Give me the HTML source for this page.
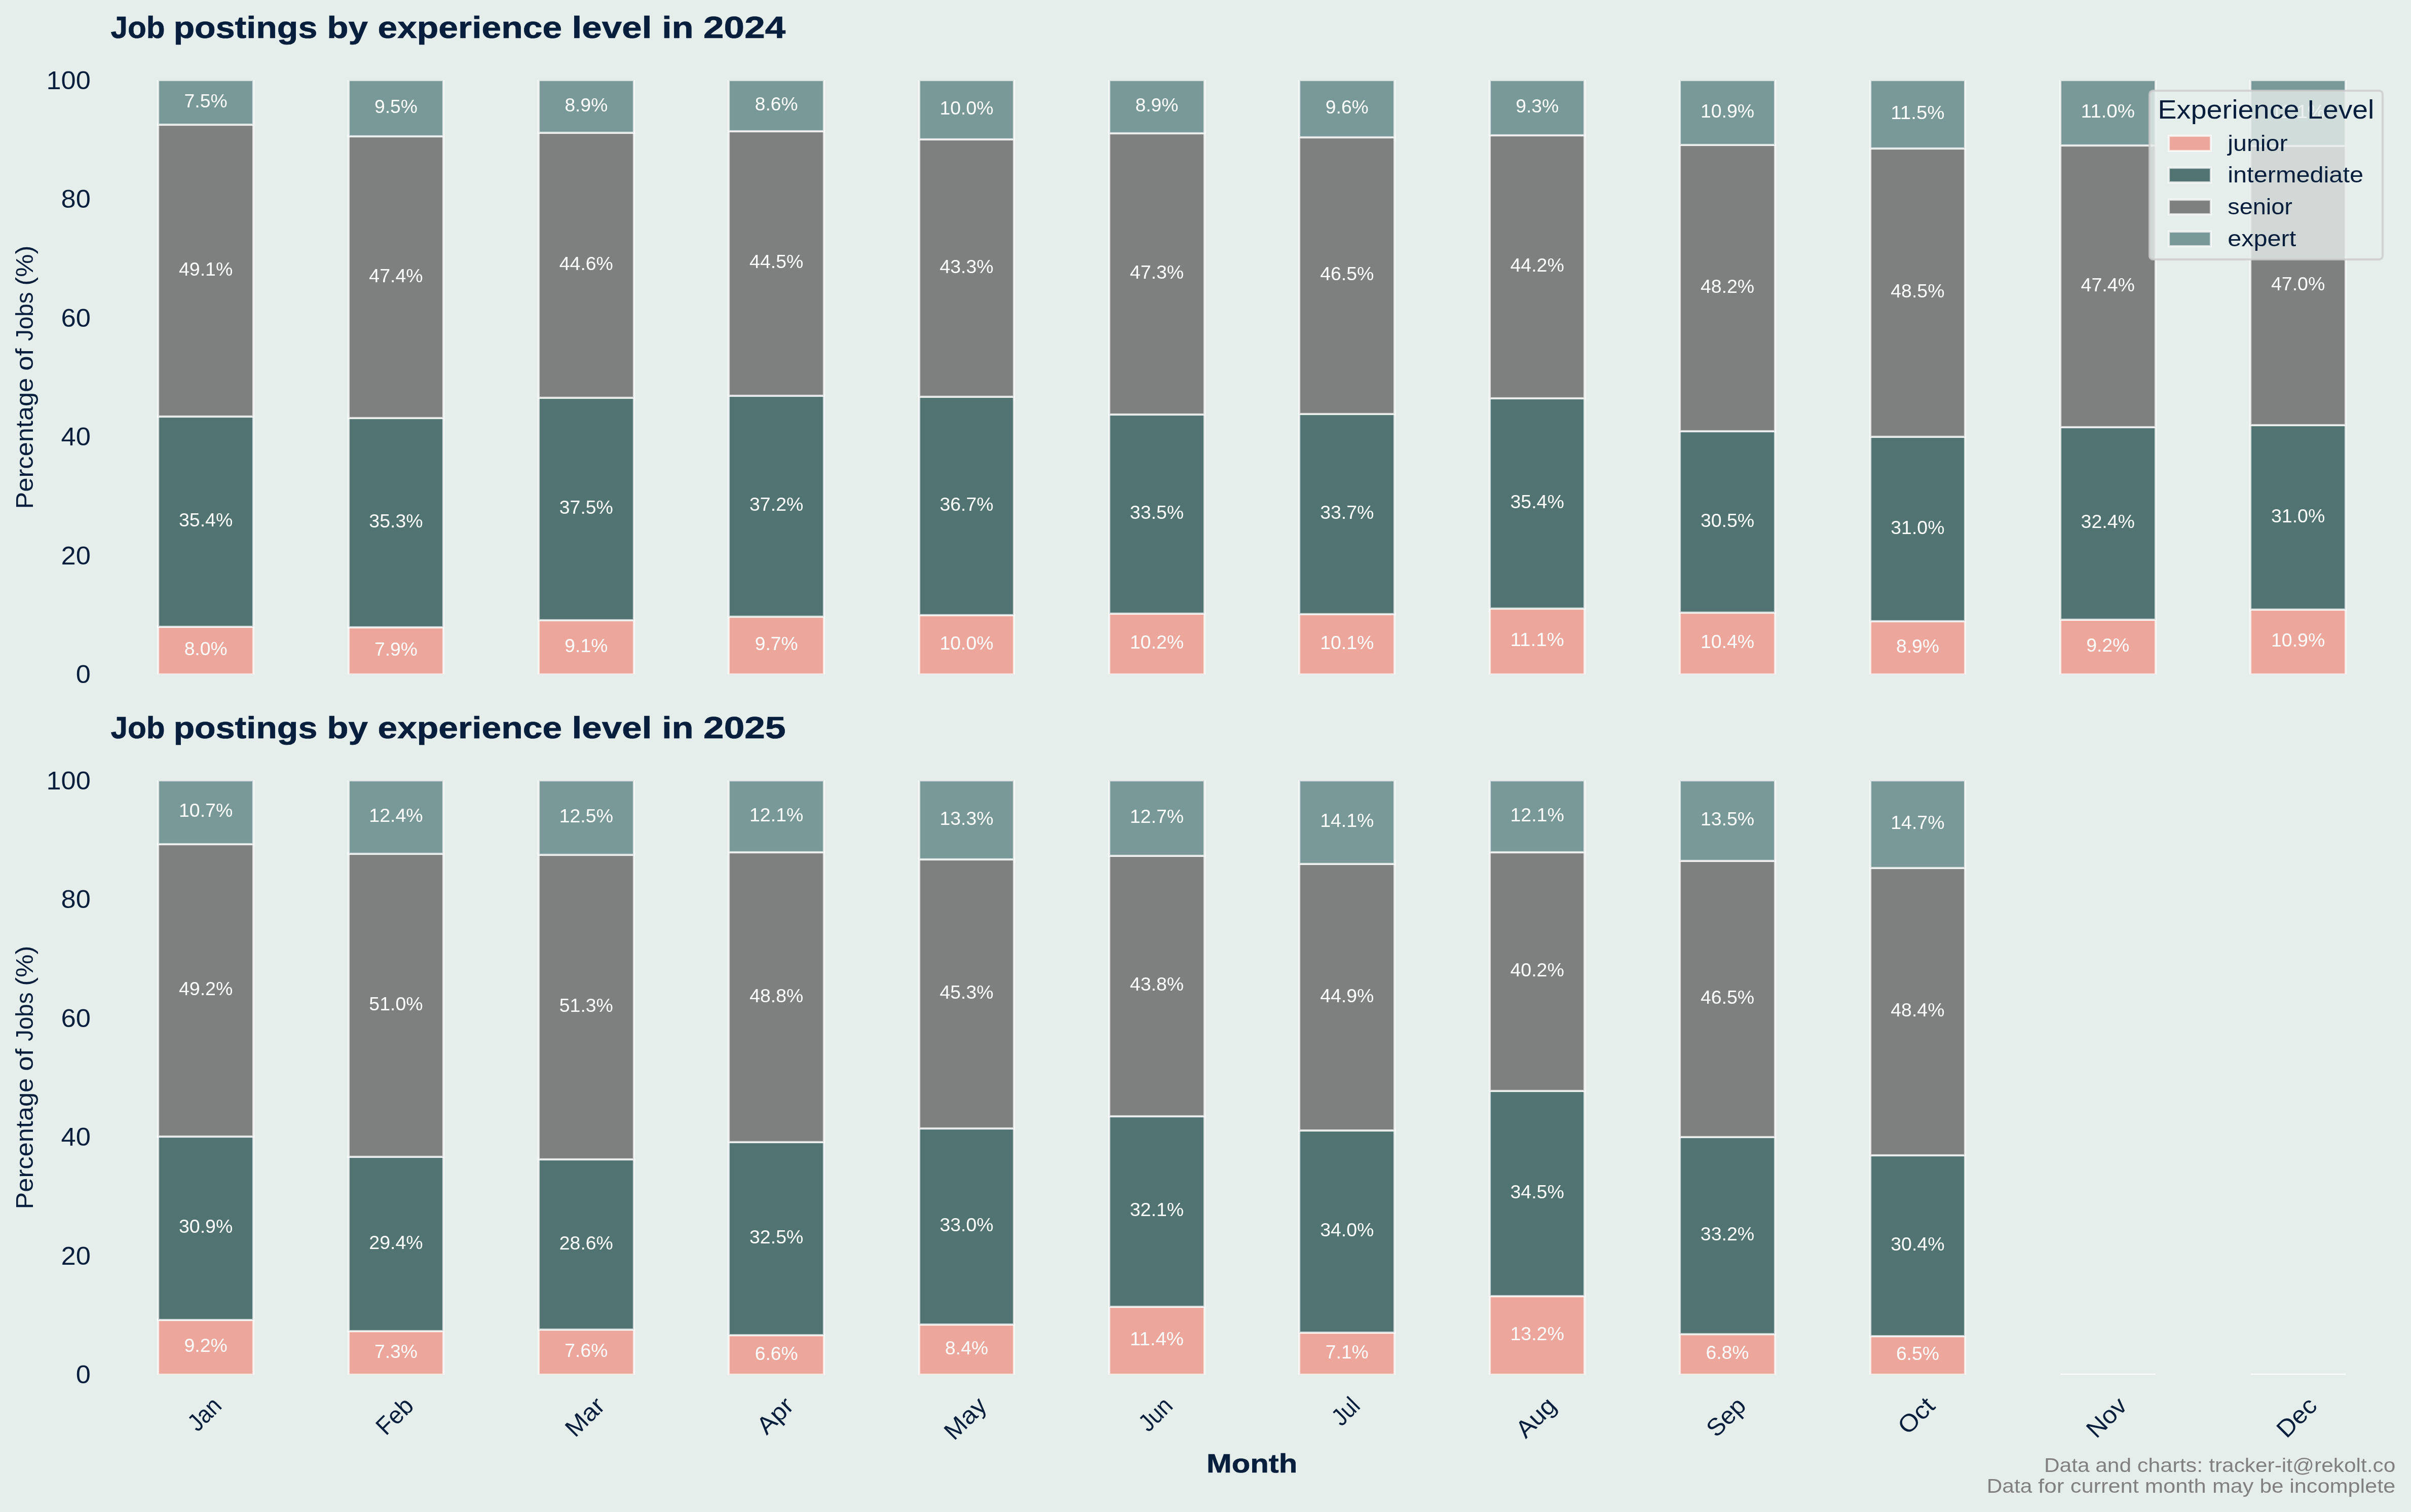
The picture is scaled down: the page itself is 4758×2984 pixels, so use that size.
<!DOCTYPE html>
<html lang="en">
<head>
<meta charset="utf-8">
<title>Job postings by experience level</title>
<style>
html,body{margin:0;padding:0;background:#E6EEEB;}
body{width:4758px;height:2984px;overflow:hidden;}
svg{display:block;will-change:transform;}
text{font-family:"Liberation Sans",sans-serif;white-space:pre;}
.b rect,.b line{stroke:#fff;stroke-width:4.1667;stroke-opacity:0.72;}
.d text{fill:#fff;}
.n text{fill:#071E3C;}
.g text{fill:#808080;}
.bold{font-weight:700;stroke:#071E3C;stroke-width:0.7;}
.n text,.g text,.d text{paint-order:stroke;}
</style>
</head>
<body>
<svg width="4758" height="2984" viewBox="0 0 4758 2984">
<rect width="4758" height="2984" fill="#E6EEEB"/>
<defs>
<clipPath id="c0"><rect x="218" y="158" width="4505" height="1173"/></clipPath>
<clipPath id="c1"><rect x="218" y="1540" width="4505" height="1173"/></clipPath>
</defs>
<g class="b" clip-path="url(#c0)">
<rect x="312" y="1237" width="188" height="94" fill="#ECA69B"/>
<rect x="688" y="1238" width="187" height="93" fill="#ECA69B"/>
<rect x="1063" y="1224" width="188" height="107" fill="#ECA69B"/>
<rect x="1438" y="1217" width="188" height="114" fill="#ECA69B"/>
<rect x="1814" y="1214" width="187" height="117" fill="#ECA69B"/>
<rect x="2189" y="1211" width="188" height="120" fill="#ECA69B"/>
<rect x="2564" y="1212" width="188" height="119" fill="#ECA69B"/>
<rect x="2940" y="1201" width="187" height="130" fill="#ECA69B"/>
<rect x="3315" y="1209" width="188" height="122" fill="#ECA69B"/>
<rect x="3691" y="1226" width="187" height="105" fill="#ECA69B"/>
<rect x="4066" y="1223" width="188" height="108" fill="#ECA69B"/>
<rect x="4441" y="1203" width="188" height="128" fill="#ECA69B"/>
<rect x="312" y="822" width="188" height="415" fill="#517472"/>
<rect x="688" y="825" width="187" height="413" fill="#517472"/>
<rect x="1063" y="785" width="188" height="439" fill="#517472"/>
<rect x="1438" y="781" width="188" height="436" fill="#517472"/>
<rect x="1814" y="783" width="187" height="431" fill="#517472"/>
<rect x="2189" y="818" width="188" height="393" fill="#517472"/>
<rect x="2564" y="817" width="188" height="395" fill="#517472"/>
<rect x="2940" y="786" width="187" height="415" fill="#517472"/>
<rect x="3315" y="851" width="188" height="358" fill="#517472"/>
<rect x="3691" y="862" width="187" height="364" fill="#517472"/>
<rect x="4066" y="843" width="188" height="380" fill="#517472"/>
<rect x="4441" y="839" width="188" height="364" fill="#517472"/>
<rect x="312" y="246" width="188" height="576" fill="#7D807F"/>
<rect x="688" y="269" width="187" height="556" fill="#7D807F"/>
<rect x="1063" y="262" width="188" height="523" fill="#7D807F"/>
<rect x="1438" y="259" width="188" height="522" fill="#7D807F"/>
<rect x="1814" y="275" width="187" height="508" fill="#7D807F"/>
<rect x="2189" y="263" width="188" height="555" fill="#7D807F"/>
<rect x="2564" y="271" width="188" height="546" fill="#7D807F"/>
<rect x="2940" y="267" width="187" height="519" fill="#7D807F"/>
<rect x="3315" y="286" width="188" height="565" fill="#7D807F"/>
<rect x="3691" y="293" width="187" height="569" fill="#7D807F"/>
<rect x="4066" y="287" width="188" height="556" fill="#7D807F"/>
<rect x="4441" y="288" width="188" height="551" fill="#7D807F"/>
<rect x="312" y="158" width="188" height="88" fill="#799898"/>
<rect x="688" y="158" width="187" height="111" fill="#799898"/>
<rect x="1063" y="158" width="188" height="104" fill="#799898"/>
<rect x="1438" y="158" width="188" height="101" fill="#799898"/>
<rect x="1814" y="158" width="187" height="117" fill="#799898"/>
<rect x="2189" y="158" width="188" height="105" fill="#799898"/>
<rect x="2564" y="158" width="188" height="113" fill="#799898"/>
<rect x="2940" y="158" width="187" height="109" fill="#799898"/>
<rect x="3315" y="158" width="188" height="128" fill="#799898"/>
<rect x="3691" y="158" width="187" height="135" fill="#799898"/>
<rect x="4066" y="158" width="188" height="129" fill="#799898"/>
<rect x="4441" y="158" width="188" height="130" fill="#799898"/>
</g>
<g class="d">
<text transform="translate(363.66 1293.4)" font-size="36.17" textLength="84.88" lengthAdjust="spacingAndGlyphs">8.0%</text>
<text transform="translate(738.96 1294.03)" font-size="36.17" textLength="85" lengthAdjust="spacingAndGlyphs">7.9%</text>
<text transform="translate(1114.33 1287)" font-size="36.17" textLength="85" lengthAdjust="spacingAndGlyphs">9.1%</text>
<text transform="translate(1489.69 1283.43)" font-size="36.17" textLength="85" lengthAdjust="spacingAndGlyphs">9.7%</text>
<text transform="translate(1854.43 1281.67)" font-size="36.17" textLength="106.25" lengthAdjust="spacingAndGlyphs">10.0%</text>
<text transform="translate(2229.73 1280.44)" font-size="36.17" textLength="106.38" lengthAdjust="spacingAndGlyphs">10.2%</text>
<text transform="translate(2605.16 1281.02)" font-size="36.17" textLength="106.25" lengthAdjust="spacingAndGlyphs">10.1%</text>
<text transform="translate(2980.52 1275.22)" font-size="36.17" textLength="106.25" lengthAdjust="spacingAndGlyphs">11.1%</text>
<text transform="translate(3355.89 1279.32)" font-size="36.17" textLength="106.25" lengthAdjust="spacingAndGlyphs">10.4%</text>
<text transform="translate(3741.94 1288.07)" font-size="36.17" textLength="84.88" lengthAdjust="spacingAndGlyphs">8.9%</text>
<text transform="translate(4117.18 1286.36)" font-size="36.17" textLength="85.12" lengthAdjust="spacingAndGlyphs">9.2%</text>
<text transform="translate(4481.98 1276.39)" font-size="36.17" textLength="106.25" lengthAdjust="spacingAndGlyphs">10.9%</text>
<text transform="translate(352.98 1038.94)" font-size="36.17" textLength="106.25" lengthAdjust="spacingAndGlyphs">35.4%</text>
<text transform="translate(728.34 1041)" font-size="36.17" textLength="106.25" lengthAdjust="spacingAndGlyphs">35.3%</text>
<text transform="translate(1103.7 1014.06)" font-size="36.17" textLength="106.25" lengthAdjust="spacingAndGlyphs">37.5%</text>
<text transform="translate(1479 1008.45)" font-size="36.17" textLength="106.38" lengthAdjust="spacingAndGlyphs">37.2%</text>
<text transform="translate(1854.43 1007.87)" font-size="36.17" textLength="106.25" lengthAdjust="spacingAndGlyphs">36.7%</text>
<text transform="translate(2229.8 1023.97)" font-size="36.17" textLength="106.25" lengthAdjust="spacingAndGlyphs">33.5%</text>
<text transform="translate(2605.16 1023.97)" font-size="36.17" textLength="106.25" lengthAdjust="spacingAndGlyphs">33.7%</text>
<text transform="translate(2980.52 1002.59)" font-size="36.17" textLength="106.25" lengthAdjust="spacingAndGlyphs">35.4%</text>
<text transform="translate(3355.89 1039.53)" font-size="36.17" textLength="106.25" lengthAdjust="spacingAndGlyphs">30.5%</text>
<text transform="translate(3731.25 1053.9)" font-size="36.17" textLength="106.25" lengthAdjust="spacingAndGlyphs">31.0%</text>
<text transform="translate(4106.55 1042.46)" font-size="36.17" textLength="106.38" lengthAdjust="spacingAndGlyphs">32.4%</text>
<text transform="translate(4481.98 1030.73)" font-size="36.17" textLength="106.25" lengthAdjust="spacingAndGlyphs">31.0%</text>
<text transform="translate(352.98 543.52)" font-size="36.17" textLength="106.25" lengthAdjust="spacingAndGlyphs">49.1%</text>
<text transform="translate(728.34 556.61)" font-size="36.17" textLength="106.25" lengthAdjust="spacingAndGlyphs">47.4%</text>
<text transform="translate(1103.7 533.19)" font-size="36.17" textLength="106.25" lengthAdjust="spacingAndGlyphs">44.6%</text>
<text transform="translate(1479.07 529.45)" font-size="36.17" textLength="106.25" lengthAdjust="spacingAndGlyphs">44.5%</text>
<text transform="translate(1854.43 538.83)" font-size="36.17" textLength="106.25" lengthAdjust="spacingAndGlyphs">43.3%</text>
<text transform="translate(2229.8 549.76)" font-size="36.17" textLength="106.25" lengthAdjust="spacingAndGlyphs">47.3%</text>
<text transform="translate(2605.16 553.28)" font-size="36.17" textLength="106.25" lengthAdjust="spacingAndGlyphs">46.5%</text>
<text transform="translate(2980.46 535.9)" font-size="36.17" textLength="106.38" lengthAdjust="spacingAndGlyphs">44.2%</text>
<text transform="translate(3355.89 578.11)" font-size="36.17" textLength="106.25" lengthAdjust="spacingAndGlyphs">48.2%</text>
<text transform="translate(3731.31 587.32)" font-size="36.17" textLength="106.12" lengthAdjust="spacingAndGlyphs">48.5%</text>
<text transform="translate(4106.62 574.59)" font-size="36.17" textLength="106.25" lengthAdjust="spacingAndGlyphs">47.4%</text>
<text transform="translate(4481.98 573.42)" font-size="36.17" textLength="106.25" lengthAdjust="spacingAndGlyphs">47.0%</text>
<text transform="translate(363.6 211.67)" font-size="36.17" textLength="85" lengthAdjust="spacingAndGlyphs">7.5%</text>
<text transform="translate(738.96 223.34)" font-size="36.17" textLength="85" lengthAdjust="spacingAndGlyphs">9.5%</text>
<text transform="translate(1114.39 219.83)" font-size="36.17" textLength="84.88" lengthAdjust="spacingAndGlyphs">8.9%</text>
<text transform="translate(1489.75 218.12)" font-size="36.17" textLength="84.88" lengthAdjust="spacingAndGlyphs">8.6%</text>
<text transform="translate(1854.43 226.33)" font-size="36.17" textLength="106.25" lengthAdjust="spacingAndGlyphs">10.0%</text>
<text transform="translate(2240.48 219.93)" font-size="36.17" textLength="84.88" lengthAdjust="spacingAndGlyphs">8.9%</text>
<text transform="translate(2615.78 224.04)" font-size="36.17" textLength="85" lengthAdjust="spacingAndGlyphs">9.6%</text>
<text transform="translate(2991.15 222.23)" font-size="36.17" textLength="85" lengthAdjust="spacingAndGlyphs">9.3%</text>
<text transform="translate(3355.89 231.61)" font-size="36.17" textLength="106.25" lengthAdjust="spacingAndGlyphs">10.9%</text>
<text transform="translate(3731.25 235.19)" font-size="36.17" textLength="106.25" lengthAdjust="spacingAndGlyphs">11.5%</text>
<text transform="translate(4106.62 232.19)" font-size="36.17" textLength="106.25" lengthAdjust="spacingAndGlyphs">11.0%</text>
<text transform="translate(4481.98 232.78)" font-size="36.17" textLength="106.25" lengthAdjust="spacingAndGlyphs">11.1%</text>
</g>
<g class="n">
<text transform="translate(218.42 74.87)" font-size="61.25" class="bold"><tspan x="0" textLength="124" lengthAdjust="spacingAndGlyphs">Job </tspan><tspan x="124" textLength="302.88" lengthAdjust="spacingAndGlyphs">postings </tspan><tspan x="426.88" textLength="100.12" lengthAdjust="spacingAndGlyphs">by </tspan><tspan x="527" textLength="383.12" lengthAdjust="spacingAndGlyphs">experience </tspan><tspan x="910.12" textLength="177.62" lengthAdjust="spacingAndGlyphs">level </tspan><tspan x="1087.75" textLength="81.88" lengthAdjust="spacingAndGlyphs">in </tspan><tspan x="1169.62" textLength="162.38" lengthAdjust="spacingAndGlyphs">2024</tspan></text>
<text transform="translate(64.79 1004.44) rotate(-90)" font-size="48.13"><tspan x="0" textLength="272.75" lengthAdjust="spacingAndGlyphs">Percentage </tspan><tspan x="272.75" textLength="58.75" lengthAdjust="spacingAndGlyphs">of </tspan><tspan x="331.5" textLength="109.12" lengthAdjust="spacingAndGlyphs">Jobs </tspan><tspan x="440.62" textLength="79.25" lengthAdjust="spacingAndGlyphs">(%)</tspan></text>
<text transform="translate(149.71 1348.3)" font-size="49.73" textLength="29.12" lengthAdjust="spacingAndGlyphs">0</text>
<text transform="translate(120.46 1113.78)" font-size="49.73" textLength="58.38" lengthAdjust="spacingAndGlyphs">20</text>
<text transform="translate(120.46 879.26)" font-size="49.73" textLength="58.38" lengthAdjust="spacingAndGlyphs">40</text>
<text transform="translate(120.46 644.74)" font-size="49.73" textLength="58.38" lengthAdjust="spacingAndGlyphs">60</text>
<text transform="translate(120.58 410.22)" font-size="49.73" textLength="58.25" lengthAdjust="spacingAndGlyphs">80</text>
<text transform="translate(91.46 175.7)" font-size="49.73" textLength="87.38" lengthAdjust="spacingAndGlyphs">100</text>
</g>
<rect x="4242" y="179" width="460" height="333" rx="7.0" ry="7.0" fill="#E6EEEB" fill-opacity="0.8" stroke="#CCCCCC" stroke-opacity="0.8" stroke-width="4.1667"/>
<g class="b">
<rect x="4280" y="268" width="83" height="30" fill="#ECA69B"/>
<rect x="4280" y="331" width="83" height="29" fill="#517472"/>
<rect x="4280" y="394" width="83" height="29" fill="#7D807F"/>
<rect x="4280" y="457" width="83" height="29" fill="#799898"/>
</g>
<g class="n">
<text transform="translate(4258.29 233.7)" font-size="52.5"><tspan x="0" textLength="294.88" lengthAdjust="spacingAndGlyphs">Experience </tspan><tspan x="294.88" textLength="132.12" lengthAdjust="spacingAndGlyphs">Level</tspan></text>
<text transform="translate(4396.24 297.53)" font-size="43.75" textLength="118.38" lengthAdjust="spacingAndGlyphs">junior</text>
<text transform="translate(4396.24 360.37)" font-size="43.75" textLength="267.75" lengthAdjust="spacingAndGlyphs">intermediate</text>
<text transform="translate(4396.24 423.2)" font-size="43.75" textLength="127.75" lengthAdjust="spacingAndGlyphs">senior</text>
<text transform="translate(4396.24 486.03)" font-size="43.75" textLength="135" lengthAdjust="spacingAndGlyphs">expert</text>
</g>
<g class="b" clip-path="url(#c1)">
<rect x="312" y="2605" width="188" height="108" fill="#ECA69B"/>
<rect x="688" y="2627" width="187" height="86" fill="#ECA69B"/>
<rect x="1063" y="2624" width="188" height="89" fill="#ECA69B"/>
<rect x="1438" y="2635" width="188" height="78" fill="#ECA69B"/>
<rect x="1814" y="2614" width="187" height="99" fill="#ECA69B"/>
<rect x="2189" y="2579" width="188" height="134" fill="#ECA69B"/>
<rect x="2564" y="2630" width="188" height="83" fill="#ECA69B"/>
<rect x="2940" y="2558" width="187" height="155" fill="#ECA69B"/>
<rect x="3315" y="2633" width="188" height="80" fill="#ECA69B"/>
<rect x="3691" y="2637" width="187" height="76" fill="#ECA69B"/>
<line x1="4066" y1="2713" x2="4254" y2="2713"/>
<line x1="4441" y1="2713" x2="4629" y2="2713"/>
<rect x="312" y="2243" width="188" height="362" fill="#517472"/>
<rect x="688" y="2283" width="187" height="344" fill="#517472"/>
<rect x="1063" y="2288" width="188" height="336" fill="#517472"/>
<rect x="1438" y="2254" width="188" height="381" fill="#517472"/>
<rect x="1814" y="2227" width="187" height="387" fill="#517472"/>
<rect x="2189" y="2203" width="188" height="376" fill="#517472"/>
<rect x="2564" y="2231" width="188" height="399" fill="#517472"/>
<rect x="2940" y="2153" width="187" height="405" fill="#517472"/>
<rect x="3315" y="2244" width="188" height="389" fill="#517472"/>
<rect x="3691" y="2280" width="187" height="357" fill="#517472"/>
<line x1="4066" y1="2713" x2="4254" y2="2713"/>
<line x1="4441" y1="2713" x2="4629" y2="2713"/>
<rect x="312" y="1666" width="188" height="577" fill="#7D807F"/>
<rect x="688" y="1685" width="187" height="598" fill="#7D807F"/>
<rect x="1063" y="1687" width="188" height="601" fill="#7D807F"/>
<rect x="1438" y="1682" width="188" height="572" fill="#7D807F"/>
<rect x="1814" y="1696" width="187" height="531" fill="#7D807F"/>
<rect x="2189" y="1689" width="188" height="514" fill="#7D807F"/>
<rect x="2564" y="1705" width="188" height="526" fill="#7D807F"/>
<rect x="2940" y="1682" width="187" height="471" fill="#7D807F"/>
<rect x="3315" y="1699" width="188" height="545" fill="#7D807F"/>
<rect x="3691" y="1713" width="187" height="567" fill="#7D807F"/>
<line x1="4066" y1="2713" x2="4254" y2="2713"/>
<line x1="4441" y1="2713" x2="4629" y2="2713"/>
<rect x="312" y="1540" width="188" height="126" fill="#799898"/>
<rect x="688" y="1540" width="187" height="145" fill="#799898"/>
<rect x="1063" y="1540" width="188" height="147" fill="#799898"/>
<rect x="1438" y="1540" width="188" height="142" fill="#799898"/>
<rect x="1814" y="1540" width="187" height="156" fill="#799898"/>
<rect x="2189" y="1540" width="188" height="149" fill="#799898"/>
<rect x="2564" y="1540" width="188" height="165" fill="#799898"/>
<rect x="2940" y="1540" width="187" height="142" fill="#799898"/>
<rect x="3315" y="1540" width="188" height="159" fill="#799898"/>
<rect x="3691" y="1540" width="187" height="173" fill="#799898"/>
<line x1="4066" y1="2713" x2="4254" y2="2713"/>
<line x1="4441" y1="2713" x2="4629" y2="2713"/>
</g>
<g class="d">
<text transform="translate(363.54 2668.36)" font-size="36.17" textLength="85.12" lengthAdjust="spacingAndGlyphs">9.2%</text>
<text transform="translate(738.96 2679.54)" font-size="36.17" textLength="85" lengthAdjust="spacingAndGlyphs">7.3%</text>
<text transform="translate(1114.33 2677.74)" font-size="36.17" textLength="85" lengthAdjust="spacingAndGlyphs">7.6%</text>
<text transform="translate(1489.69 2683.6)" font-size="36.17" textLength="85" lengthAdjust="spacingAndGlyphs">6.6%</text>
<text transform="translate(1865.12 2673.05)" font-size="36.17" textLength="84.88" lengthAdjust="spacingAndGlyphs">8.4%</text>
<text transform="translate(2229.8 2655.46)" font-size="36.17" textLength="106.25" lengthAdjust="spacingAndGlyphs">11.4%</text>
<text transform="translate(2615.78 2680.71)" font-size="36.17" textLength="85" lengthAdjust="spacingAndGlyphs">7.1%</text>
<text transform="translate(2980.46 2644.91)" font-size="36.17" textLength="106.38" lengthAdjust="spacingAndGlyphs">13.2%</text>
<text transform="translate(3366.57 2682.43)" font-size="36.17" textLength="84.88" lengthAdjust="spacingAndGlyphs">6.8%</text>
<text transform="translate(3741.88 2684.19)" font-size="36.17" textLength="85" lengthAdjust="spacingAndGlyphs">6.5%</text>
<text transform="translate(352.98 2433.25)" font-size="36.17" textLength="106.25" lengthAdjust="spacingAndGlyphs">30.9%</text>
<text transform="translate(728.28 2464.59)" font-size="36.17" textLength="106.38" lengthAdjust="spacingAndGlyphs">29.4%</text>
<text transform="translate(1103.7 2465.5)" font-size="36.17" textLength="106.25" lengthAdjust="spacingAndGlyphs">28.6%</text>
<text transform="translate(1479 2454.36)" font-size="36.17" textLength="106.38" lengthAdjust="spacingAndGlyphs">32.5%</text>
<text transform="translate(1854.43 2430.32)" font-size="36.17" textLength="106.25" lengthAdjust="spacingAndGlyphs">33.0%</text>
<text transform="translate(2229.73 2400.42)" font-size="36.17" textLength="106.38" lengthAdjust="spacingAndGlyphs">32.1%</text>
<text transform="translate(2605.16 2439.99)" font-size="36.17" textLength="106.25" lengthAdjust="spacingAndGlyphs">34.0%</text>
<text transform="translate(2980.52 2365.24)" font-size="36.17" textLength="106.25" lengthAdjust="spacingAndGlyphs">34.5%</text>
<text transform="translate(3355.82 2447.91)" font-size="36.17" textLength="106.38" lengthAdjust="spacingAndGlyphs">33.2%</text>
<text transform="translate(3731.25 2467.85)" font-size="36.17" textLength="106.25" lengthAdjust="spacingAndGlyphs">30.4%</text>
<text transform="translate(352.91 1963.63)" font-size="36.17" textLength="106.38" lengthAdjust="spacingAndGlyphs">49.2%</text>
<text transform="translate(728.34 1993.67)" font-size="36.17" textLength="106.25" lengthAdjust="spacingAndGlyphs">51.0%</text>
<text transform="translate(1103.7 1997.05)" font-size="36.17" textLength="106.25" lengthAdjust="spacingAndGlyphs">51.3%</text>
<text transform="translate(1479.19 1977.7)" font-size="36.17" textLength="106" lengthAdjust="spacingAndGlyphs">48.8%</text>
<text transform="translate(1854.43 1971.25)" font-size="36.17" textLength="106.25" lengthAdjust="spacingAndGlyphs">45.3%</text>
<text transform="translate(2229.86 1955.42)" font-size="36.17" textLength="106.12" lengthAdjust="spacingAndGlyphs">43.8%</text>
<text transform="translate(2605.16 1977.86)" font-size="36.17" textLength="106.25" lengthAdjust="spacingAndGlyphs">44.9%</text>
<text transform="translate(2980.46 1927.28)" font-size="36.17" textLength="106.38" lengthAdjust="spacingAndGlyphs">40.2%</text>
<text transform="translate(3355.89 1980.63)" font-size="36.17" textLength="106.25" lengthAdjust="spacingAndGlyphs">46.5%</text>
<text transform="translate(3731.31 2005.84)" font-size="36.17" textLength="106.12" lengthAdjust="spacingAndGlyphs">48.4%</text>
<text transform="translate(352.98 1612.43)" font-size="36.17" textLength="106.25" lengthAdjust="spacingAndGlyphs">10.7%</text>
<text transform="translate(728.28 1622.33)" font-size="36.17" textLength="106.38" lengthAdjust="spacingAndGlyphs">12.4%</text>
<text transform="translate(1103.64 1622.99)" font-size="36.17" textLength="106.38" lengthAdjust="spacingAndGlyphs">12.5%</text>
<text transform="translate(1479 1620.64)" font-size="36.17" textLength="106.38" lengthAdjust="spacingAndGlyphs">12.1%</text>
<text transform="translate(1854.43 1627.68)" font-size="36.17" textLength="106.25" lengthAdjust="spacingAndGlyphs">13.3%</text>
<text transform="translate(2229.73 1624.16)" font-size="36.17" textLength="106.38" lengthAdjust="spacingAndGlyphs">12.7%</text>
<text transform="translate(2605.16 1632.29)" font-size="36.17" textLength="106.25" lengthAdjust="spacingAndGlyphs">14.1%</text>
<text transform="translate(2980.46 1620.64)" font-size="36.17" textLength="106.38" lengthAdjust="spacingAndGlyphs">12.1%</text>
<text transform="translate(3355.89 1628.85)" font-size="36.17" textLength="106.25" lengthAdjust="spacingAndGlyphs">13.5%</text>
<text transform="translate(3731.25 1635.89)" font-size="36.17" textLength="106.25" lengthAdjust="spacingAndGlyphs">14.7%</text>
</g>
<g class="n">
<text transform="translate(218.42 1456.87)" font-size="61.25" class="bold"><tspan x="0" textLength="124" lengthAdjust="spacingAndGlyphs">Job </tspan><tspan x="124" textLength="302.88" lengthAdjust="spacingAndGlyphs">postings </tspan><tspan x="426.88" textLength="100.12" lengthAdjust="spacingAndGlyphs">by </tspan><tspan x="527" textLength="383.12" lengthAdjust="spacingAndGlyphs">experience </tspan><tspan x="910.12" textLength="177.62" lengthAdjust="spacingAndGlyphs">level </tspan><tspan x="1087.75" textLength="81.88" lengthAdjust="spacingAndGlyphs">in </tspan><tspan x="1169.62" textLength="162.5" lengthAdjust="spacingAndGlyphs">2025</tspan></text>
<text transform="translate(2380.98 2906.16)" font-size="52.5" textLength="179.25" lengthAdjust="spacingAndGlyphs" class="bold">Month</text>
<text transform="translate(64.79 2386.44) rotate(-90)" font-size="48.13"><tspan x="0" textLength="272.75" lengthAdjust="spacingAndGlyphs">Percentage </tspan><tspan x="272.75" textLength="58.75" lengthAdjust="spacingAndGlyphs">of </tspan><tspan x="331.5" textLength="109.12" lengthAdjust="spacingAndGlyphs">Jobs </tspan><tspan x="440.62" textLength="79.25" lengthAdjust="spacingAndGlyphs">(%)</tspan></text>
<text transform="translate(389.97 2827.27) rotate(-45)" font-size="48.13" textLength="70.62" lengthAdjust="spacingAndGlyphs">Jan</text>
<text transform="translate(761.58 2834.78) rotate(-45)" font-size="48.13" textLength="81.25" lengthAdjust="spacingAndGlyphs">Feb</text>
<text transform="translate(1135.04 2838.59) rotate(-45)" font-size="48.13" textLength="86.62" lengthAdjust="spacingAndGlyphs">Mar</text>
<text transform="translate(1512.97 2833.46) rotate(-45)" font-size="48.13" textLength="79.38" lengthAdjust="spacingAndGlyphs">Apr</text>
<text transform="translate(1882.85 2844.42) rotate(-45)" font-size="48.13" textLength="94.88" lengthAdjust="spacingAndGlyphs">May</text>
<text transform="translate(2266.48 2827.89) rotate(-45)" font-size="48.13" textLength="71.5" lengthAdjust="spacingAndGlyphs">Jun</text>
<text transform="translate(2647.59 2816.4) rotate(-45)" font-size="48.13" textLength="55.25" lengthAdjust="spacingAndGlyphs">Jul</text>
<text transform="translate(3010.89 2840.53) rotate(-45)" font-size="48.13" textLength="89.38" lengthAdjust="spacingAndGlyphs">Aug</text>
<text transform="translate(3387.31 2838.41) rotate(-45)" font-size="48.13" textLength="86.38" lengthAdjust="spacingAndGlyphs">Sep</text>
<text transform="translate(3765.11 2833.55) rotate(-45)" font-size="48.13" textLength="79.5" lengthAdjust="spacingAndGlyphs">Oct</text>
<text transform="translate(4136.98 2840.53) rotate(-45)" font-size="48.13" textLength="89.38" lengthAdjust="spacingAndGlyphs">Nov</text>
<text transform="translate(4512.52 2840.18) rotate(-45)" font-size="48.13" textLength="88.88" lengthAdjust="spacingAndGlyphs">Dec</text>
<text transform="translate(149.71 2730.3)" font-size="49.73" textLength="29.12" lengthAdjust="spacingAndGlyphs">0</text>
<text transform="translate(120.46 2495.78)" font-size="49.73" textLength="58.38" lengthAdjust="spacingAndGlyphs">20</text>
<text transform="translate(120.46 2261.26)" font-size="49.73" textLength="58.38" lengthAdjust="spacingAndGlyphs">40</text>
<text transform="translate(120.46 2026.74)" font-size="49.73" textLength="58.38" lengthAdjust="spacingAndGlyphs">60</text>
<text transform="translate(120.58 1792.22)" font-size="49.73" textLength="58.25" lengthAdjust="spacingAndGlyphs">80</text>
<text transform="translate(91.46 1557.7)" font-size="49.73" textLength="87.38" lengthAdjust="spacingAndGlyphs">100</text>
</g>
<g class="g">
<text transform="translate(4033.93 2904.7)" font-size="39.38"><tspan x="0" textLength="101.38" lengthAdjust="spacingAndGlyphs">Data </tspan><tspan x="101.38" textLength="82.38" lengthAdjust="spacingAndGlyphs">and </tspan><tspan x="183.75" textLength="141.5" lengthAdjust="spacingAndGlyphs">charts: </tspan><tspan x="325.25" textLength="368.12" lengthAdjust="spacingAndGlyphs">tracker-it@rekolt.co</tspan></text>
<text transform="translate(3920.68 2946.3)" font-size="39.38"><tspan x="0" textLength="101.38" lengthAdjust="spacingAndGlyphs">Data </tspan><tspan x="101.38" textLength="63.62" lengthAdjust="spacingAndGlyphs">for </tspan><tspan x="165" textLength="147.12" lengthAdjust="spacingAndGlyphs">current </tspan><tspan x="312.12" textLength="133.12" lengthAdjust="spacingAndGlyphs">month </tspan><tspan x="445.25" textLength="93.5" lengthAdjust="spacingAndGlyphs">may </tspan><tspan x="538.75" textLength="58.75" lengthAdjust="spacingAndGlyphs">be </tspan><tspan x="597.5" textLength="209.12" lengthAdjust="spacingAndGlyphs">incomplete</tspan></text>
</g>
</svg>
</body>
</html>
